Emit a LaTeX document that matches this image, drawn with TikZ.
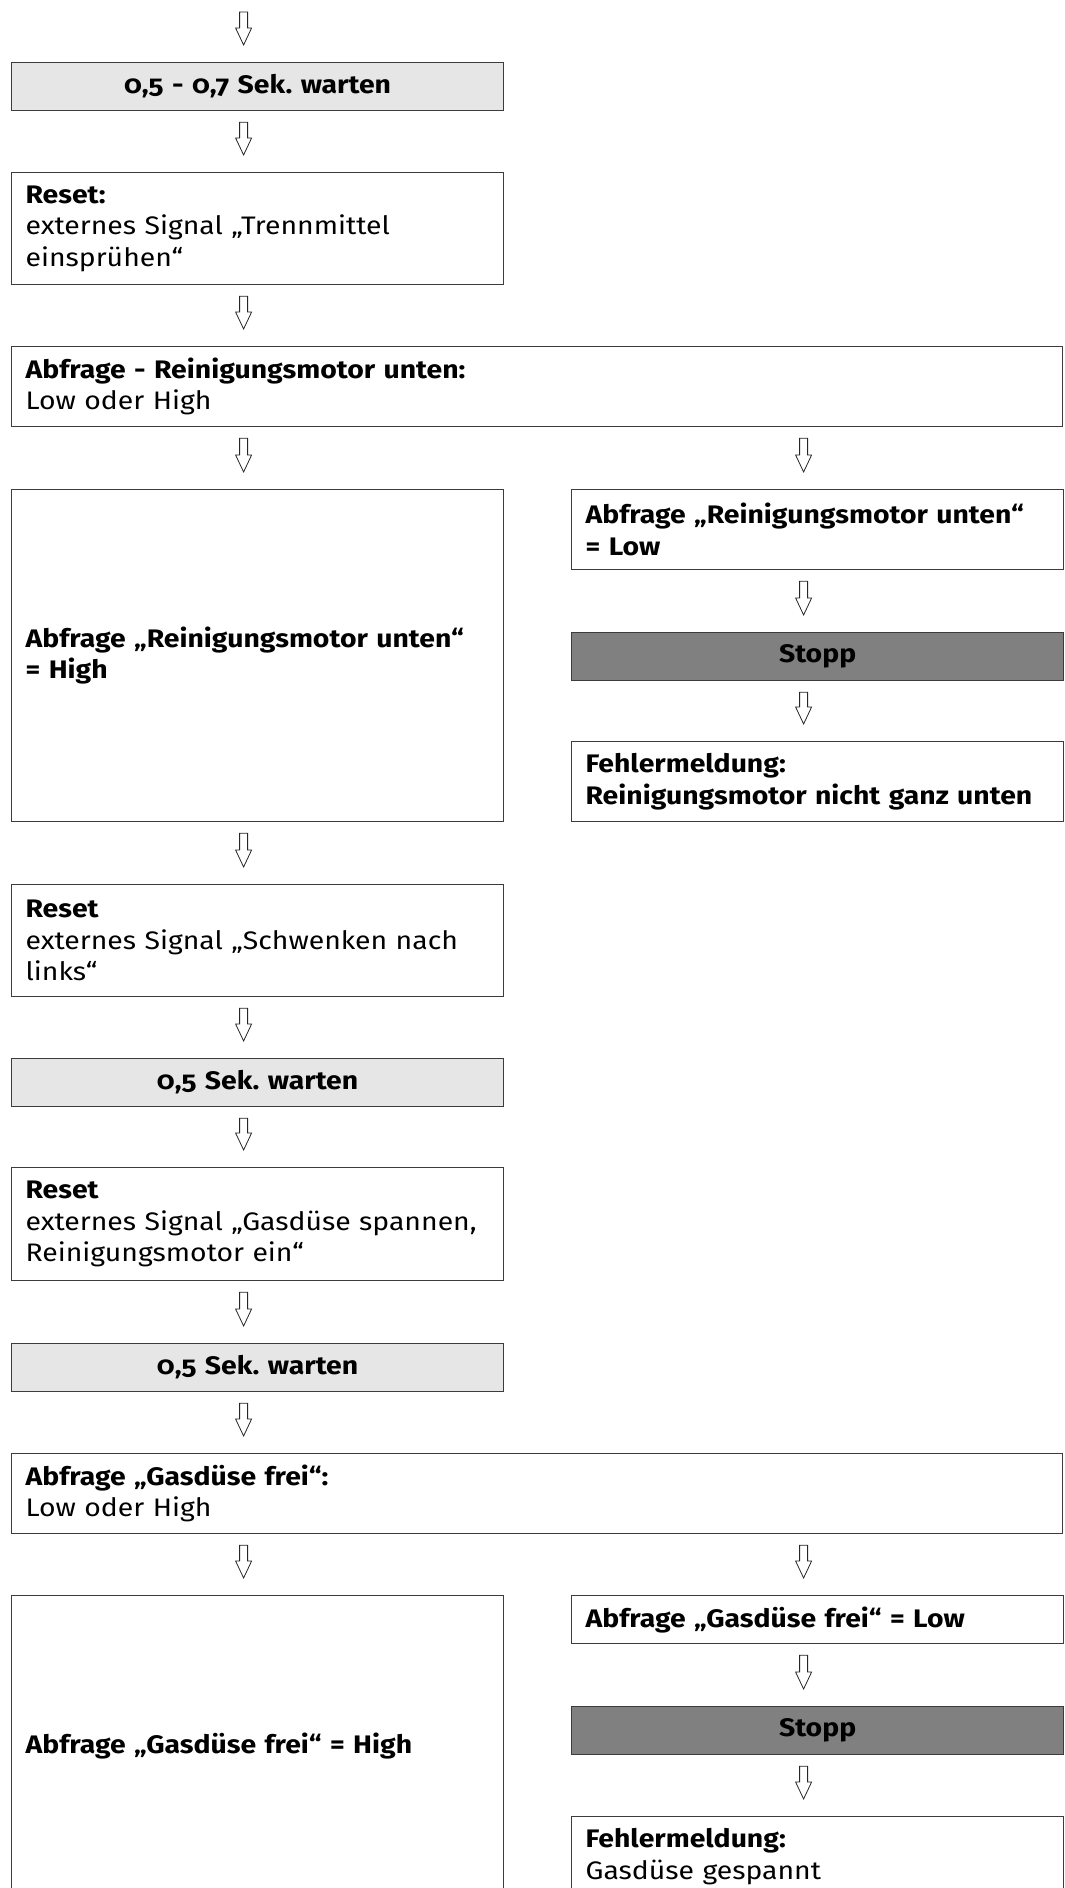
\documentclass[tikz,border=0pt]{standalone}
\usepackage{fontspec}
\setmainfont{Fira Sans}[Numbers=OldStyle, FakeStretch=1.12]
\usetikzlibrary{positioning,calc}
\frenchspacing

\definecolor{waitgray}{HTML}{E6E6E6}
\definecolor{stopgray}{HTML}{808080}
\definecolor{linegray}{HTML}{3C3C3C}

\tikzset{
  flowbox/.style={draw=linegray, line width=0.9pt, anchor=north west,
    inner xsep=10.5pt, inner ysep=0pt, align=left, text width=348pt,
    font=\fontsize{19}{23.5}\selectfont},
  widebox/.style={flowbox, text width=767pt},
  waitbox/.style={flowbox, fill=waitgray, align=center, minimum height=36pt,
    font=\fontsize{19}{23.5}\selectfont\bfseries},
  stopbox/.style={waitbox, fill=stopgray},
  hollow/.style={draw=black!85, line width=0.6pt, fill=white, line join=miter}
}

% hollow block arrow, x taken from the second point
\newcommand{\flowarrow}[2]{%
  \draw[hollow] let \p1=(#1), \p2=(#2) in
    (\x2-13.5pt,\y1-8.25pt) -- (\x2-7.5pt,\y1-8.25pt) -- (\x2-7.5pt,\y2+25.5pt)
    -- (\x2-4.5pt,\y2+25.5pt) -- (\x2-10.5pt,\y2+12.75pt) -- (\x2-16.5pt,\y2+25.5pt)
    -- (\x2-13.5pt,\y2+25.5pt) -- cycle;}

\begin{document}
\begin{tikzpicture}[x=0.75pt,y=-0.75pt]
    \useasboundingbox (0,0) rectangle (1064,1888);

    % Main column
    \coordinate (entry) at (243,1);
    \node[waitbox] (wait1) at (11,62) {0,5 - 0,7 Sek. warten};
    \node[flowbox, minimum height=84pt] (reset1) at (11,172)
        {\textbf{Reset:}\\externes Signal „Trennmittel\\einsprühen“};
    \node[widebox, minimum height=60pt] (query1) at (11,346)
        {\textbf{Abfrage - Reinigungsmotor unten:}\\Low oder High};

    % First branch
    \node[flowbox, minimum height=249pt] (high1) at (11,489)
        {\textbf{Abfrage „Reinigungsmotor unten“}\\\textbf{= High}};
    \node[flowbox, minimum height=60pt] (low1) at (571,489)
        {\textbf{Abfrage „Reinigungsmotor unten“}\\\textbf{= Low}};
    \node[stopbox] (stop1) at (571,632) {Stopp};
    \node[flowbox, minimum height=60pt] (error1) at (571,741)
        {\textbf{Fehlermeldung:}\\\textbf{Reinigungsmotor nicht ganz unten}};

    % Continue main column
    \node[flowbox, minimum height=84pt] (reset2) at (11,884)
        {\textbf{Reset}\\externes Signal „Schwenken nach\\links“};
    \node[waitbox] (wait2) at (11,1058) {0,5 Sek. warten};
    \node[flowbox, minimum height=84.75pt] (reset3) at (11,1167)
        {\textbf{Reset}\\externes Signal „Gasdüse spannen,\\Reinigungsmotor ein“};
    \node[waitbox] (wait3) at (11,1343) {0,5 Sek. warten};
    \node[widebox, minimum height=60pt] (query2) at (11,1453)
        {\textbf{Abfrage „Gasdüse frei“:}\\Low oder High};

    % Second branch
    \node[flowbox, minimum height=225pt] (high2) at (11,1595)
        {\textbf{Abfrage „Gasdüse frei“ = High}};
    \node[flowbox, minimum height=36pt] (low2) at (571,1595)
        {\textbf{Abfrage „Gasdüse frei“ = Low}};
    \node[stopbox] (stop2) at (571,1706) {Stopp};
    \node[flowbox, minimum height=60pt] (error2) at (571,1816)
        {\textbf{Fehlermeldung:}\\Gasdüse gespannt};

    % Arrows
    \flowarrow{entry}{wait1.north}
    \flowarrow{wait1.south}{reset1.north}
    \flowarrow{reset1.south}{query1.north -| reset1.north}
    \flowarrow{query1.south}{high1.north}
    \flowarrow{query1.south}{low1.north}
    \flowarrow{low1.south}{stop1.north}
    \flowarrow{stop1.south}{error1.north}
    \flowarrow{high1.south}{reset2.north}
    \flowarrow{reset2.south}{wait2.north}
    \flowarrow{wait2.south}{reset3.north}
    \flowarrow{reset3.south}{wait3.north}
    \flowarrow{wait3.south}{query2.north -| wait3.north}
    \flowarrow{query2.south}{high2.north}
    \flowarrow{query2.south}{low2.north}
    \flowarrow{low2.south}{stop2.north}
    \flowarrow{stop2.south}{error2.north}
\end{tikzpicture}
\end{document}
